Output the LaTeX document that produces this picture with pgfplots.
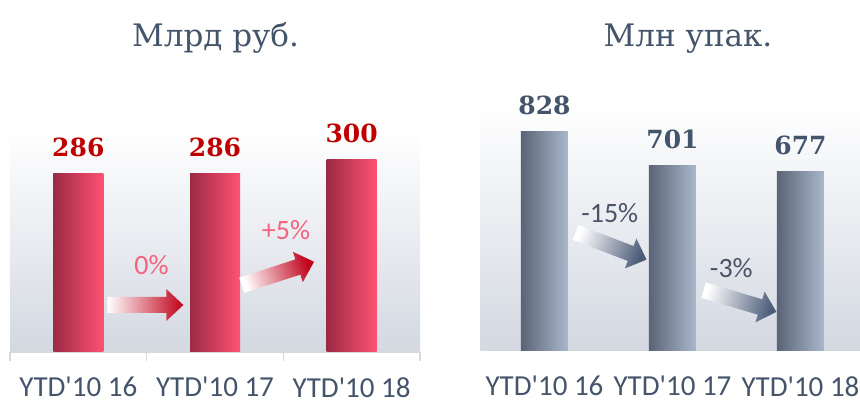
\documentclass[border=0pt]{standalone}
\usepackage{fontspec}
\setmainfont{Carlito}
\newfontfamily\serifnum{DejaVu Serif}
\usepackage{pgfplots}
\pgfplotsset{compat=1.18}

\definecolor{redL}{HTML}{9C2A45}
\definecolor{redR}{HTML}{FF5272}
\definecolor{grayL}{HTML}{5A6476}
\definecolor{grayR}{HTML}{AAB7CB}
\definecolor{valred}{HTML}{C00000}
\definecolor{valgray}{HTML}{44546A}
\definecolor{pctred}{HTML}{F4637F}
\definecolor{pctgray}{HTML}{4A5568}
\definecolor{labcol}{HTML}{44546A}
\definecolor{bgbot}{HTML}{D3D8E1}
\definecolor{arrred}{HTML}{C0001A}
\definecolor{arrgray}{HTML}{4A5A78}
\definecolor{axgray}{HTML}{D9D9D9}

% gradient block arrow: x, y (axis cs), rotation, shading angle, colour
\newcommand{\garrow}[5]{%
  \shade[shift={(axis cs:#1,#2)}, rotate=#3, top color=white, bottom color=#5, shading angle=#4]
    (-38pt,-8pt) -- (21pt,-8pt) -- (21pt,-16pt) -- (38pt,0pt) -- (21pt,16pt) -- (21pt,8pt) -- (-38pt,8pt) -- cycle;}

\pgfplotsset{
  panel/.style={
    scale only axis, anchor=south west, clip=false,
    xtick={0,1,2},
    xticklabels={YTD\textquotesingle10 16, YTD\textquotesingle10 17, YTD\textquotesingle10 18},
    xticklabel style={font=\fontsize{29}{31}\selectfont, text=labcol, inner sep=0pt, yshift=-25pt},
    ytick=\empty,
    axis y line=none,
    axis x line*=bottom,
    major tick length=0pt,
    axis background/.style={top color=white, bottom color=bgbot},
    /pgf/number format/assume math mode=true,
    nodes near coords style={font=\serifnum\bfseries\fontsize{25}{28}\selectfont, anchor=south, inner sep=0pt, yshift=17pt},
  },
  redbar/.style={ybar, bar width=50pt, bar shift=0pt, draw=none, left color=redL, right color=redR,
    nodes near coords, every node near coord/.append style={text=valred}},
  graybar/.style={ybar, bar width=47pt, bar shift=0pt, draw=none, left color=grayL, right color=grayR,
    nodes near coords, every node near coord/.append style={text=valgray}},
}

\begin{document}
\begin{tikzpicture}[x=1pt,y=1pt]
\useasboundingbox (0pt,0pt) rectangle (860pt,401pt);

\node[anchor=base, text=labcol, font=\serifnum\fontsize{31}{34}\selectfont] at (215.5pt,354pt) {Млрд руб.};
\node[anchor=base, text=labcol, font=\serifnum\fontsize{31}{34}\selectfont] at (688pt,354pt) {Млн упак.};

% left panel
\begin{axis}[panel,
  at={(10pt,49pt)}, width=410pt, height=222pt,
  xmin=-0.5, xmax=2.5, ymin=108, ymax=330,
  x axis line style={-, draw=axgray, line width=1.5pt},
  minor xtick={-0.5,0.5,1.5,2.5}, minor tick length=9pt, tick align=outside,
  minor tick style={draw=axgray, line width=1.5pt},
]
\addplot[redbar] coordinates {(0,286)};
\addplot[redbar] coordinates {(1,286)};
\addplot[redbar] coordinates {(2,300)};
\garrow{0.49}{155}{0}{90}{arrred}
\garrow{1.46}{186.5}{18}{108}{arrred}
\node[font=\fontsize{28}{30}\selectfont, text=pctred] at (axis cs:0.536,195) {0\%};
\node[font=\fontsize{28}{30}\selectfont, text=pctred] at (axis cs:1.52,230) {+5\%};
\end{axis}

% right panel
\begin{axis}[panel,
  at={(480.5pt,50pt)}, width=380pt, height=248pt,
  xmin=-0.5, xmax=2.469, ymin=0, ymax=937.6,
  x axis line style={draw=none},
]
\addplot[graybar] coordinates {(0,828)};
\addplot[graybar] coordinates {(1,701)};
\addplot[graybar] coordinates {(2,677)};
\garrow{0.52}{397}{-21}{69}{arrgray}
\garrow{1.527}{189}{-16.6}{73.4}{arrgray}
\node[font=\fontsize{28}{30}\selectfont, text=pctgray] at (axis cs:0.51,522) {-15\%};
\node[font=\fontsize{28}{30}\selectfont, text=pctgray] at (axis cs:1.46,314) {-3\%};
\end{axis}
\end{tikzpicture}
\end{document}
